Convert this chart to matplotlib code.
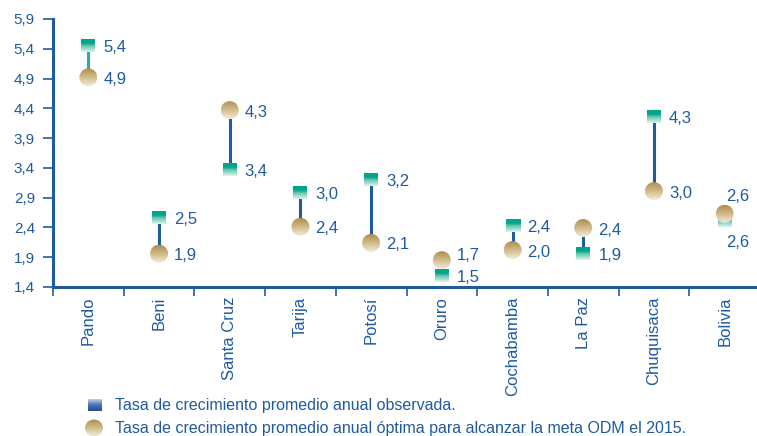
import numpy as np
import matplotlib
matplotlib.use("Agg")
import matplotlib.pyplot as plt
from matplotlib.colors import LinearSegmentedColormap
from matplotlib.patches import Rectangle, Ellipse

plt.rcParams['font.family'] = ['Liberation Sans', 'DejaVu Sans']

regions = ['Pando', 'Beni', 'Santa Cruz', 'Tarija', 'Potosí', 'Oruro',
           'Cochabamba', 'La Paz', 'Chuquisaca', 'Bolivia']
observed = [5.45, 2.56, 3.38, 2.98, 3.20, 1.59, 2.43, 1.96, 4.27, 2.52]
optimal = [4.92, 1.96, 4.37, 2.41, 2.14, 1.85, 2.02, 2.39, 3.01, 2.63]
observed_labels = ['5,4', '2,5', '3,4', '3,0', '3,2', '1,5', '2,4', '1,9', '4,3', '2,6']
optimal_labels = ['4,9', '1,9', '4,3', '2,4', '2,1', '1,7', '2,0', '2,4', '3,0', '2,6']
yticks = [1.4, 1.9, 2.4, 2.9, 3.4, 3.9, 4.4, 4.9, 5.4, 5.9]

legend_texts = ['Tasa de crecimiento promedio anual observada.',
                'Tasa de crecimiento promedio anual óptima para alcanzar la meta ODM el 2015.']

BLUE = '#1f5c9e'
TEXT = '#1f5aa0'
TEAL_MAP = LinearSegmentedColormap.from_list('teal', [(0, '#dff3ee'), (0.5, '#5cc4ad'),
                                                      (0.68, '#00a58a'), (1, '#00a58a')])
GOLD_MAP = LinearSegmentedColormap.from_list('gold', [(0, '#f3ecda'), (0.5, '#d2bb8a'),
                                                      (1, '#ad8d4c')])
BLUE_MAP = LinearSegmentedColormap.from_list('blue', [(0, '#1d4f9c'), (0.5, '#4a70b0'),
                                                      (1, '#c2cde4')])


def grad_marker(ax, x, y, wpx, hpx, cmap, shape, z):
    p0 = ax.transData.transform((0, 0))
    p1 = ax.transData.transform((1, 1))
    dx = wpx / 2 / abs(p1[0] - p0[0])
    dy = hpx / 2 / abs(p1[1] - p0[1])
    grad = np.linspace(0, 1, 64).reshape(-1, 1)
    im = ax.imshow(grad, extent=(x - dx, x + dx, y - dy, y + dy), origin='lower',
                   cmap=cmap, aspect='auto', zorder=z, interpolation='bilinear')
    if shape == 'square':
        patch = Rectangle((x - dx, y - dy), 2 * dx, 2 * dy, fc='none', ec='none')
    else:
        patch = Ellipse((x, y), 2 * dx, 2 * dy, fc='none', ec='none')
    ax.add_patch(patch)
    im.set_clip_path(patch)


fig = plt.figure(figsize=(7.57, 4.36), dpi=100)
ax = fig.add_axes([53 / 757, 1 - 287 / 436, 707 / 757, 268 / 436])
ax.set_xlim(-0.5, 9.5)
ax.set_ylim(1.4, 5.9)

x = np.arange(len(regions))
for i in x:
    if i == len(regions) - 1:
        continue
    col = '#22b39a' if i == 0 else BLUE
    ax.plot([i, i], [observed[i], optimal[i]], color=col, lw=2.2, zorder=2,
            solid_capstyle='butt')

for i in x:
    grad_marker(ax, i, observed[i], 14, 13, TEAL_MAP, 'square', 3)
    grad_marker(ax, i, optimal[i], 18, 18, GOLD_MAP, 'circle', 4)

obs_off = {9: (1, -22)}
opt_off = {9: (1, 17), 5: (15, 5)}
for i in x:
    ax.annotate(observed_labels[i], (i, observed[i]), xytext=obs_off.get(i, (15, -2)),
                textcoords='offset pixels', ha='left', va='center', fontsize=12, color=TEXT)
    ax.annotate(optimal_labels[i], (i, optimal[i]), xytext=opt_off.get(i, (15, -2)),
                textcoords='offset pixels', ha='left', va='center', fontsize=12, color=TEXT)

ax.set_xlim(-0.5, 9.5)
ax.set_ylim(1.4, 5.9)

ax.spines['top'].set_visible(False)
ax.spines['right'].set_visible(False)
for s in ['left', 'bottom']:
    ax.spines[s].set_color(BLUE)
    ax.spines[s].set_linewidth(2.2)

ax.set_yticks(yticks)
ax.set_yticklabels([f'{v:.1f}'.replace('.', ',') for v in yticks])
ax.tick_params(axis='y', colors=BLUE, labelcolor=TEXT, labelsize=11, length=7, width=1.2, pad=6)

ax.set_xticks(x)
ax.set_xticklabels(regions, rotation=90, va='top', ha='center')
ax.tick_params(axis='x', which='major', length=0, labelcolor=TEXT, labelsize=12, pad=7)
ax.set_xticks(np.arange(-0.5, 9, 1), minor=True)
ax.tick_params(axis='x', which='minor', length=6.5, width=1.2, color=BLUE)

# legend drawn in pixel space
lg = fig.add_axes([0, 0, 1, 1], zorder=5)
lg.set_xlim(0, 757)
lg.set_ylim(0, 436)
lg.axis('off')
grad_marker(lg, 95, 436 - 405, 14, 12, BLUE_MAP, 'square', 3)
grad_marker(lg, 94, 436 - 428, 18, 17, GOLD_MAP, 'circle', 3)
lg.text(115, 436 - 405, legend_texts[0], ha='left', va='center', fontsize=11.5, color=TEXT)
lg.text(115, 436 - 428, legend_texts[1], ha='left', va='center', fontsize=11.5, color=TEXT)
lg.set_xlim(0, 757)
lg.set_ylim(0, 436)

fig.savefig('out.png', dpi=100)
